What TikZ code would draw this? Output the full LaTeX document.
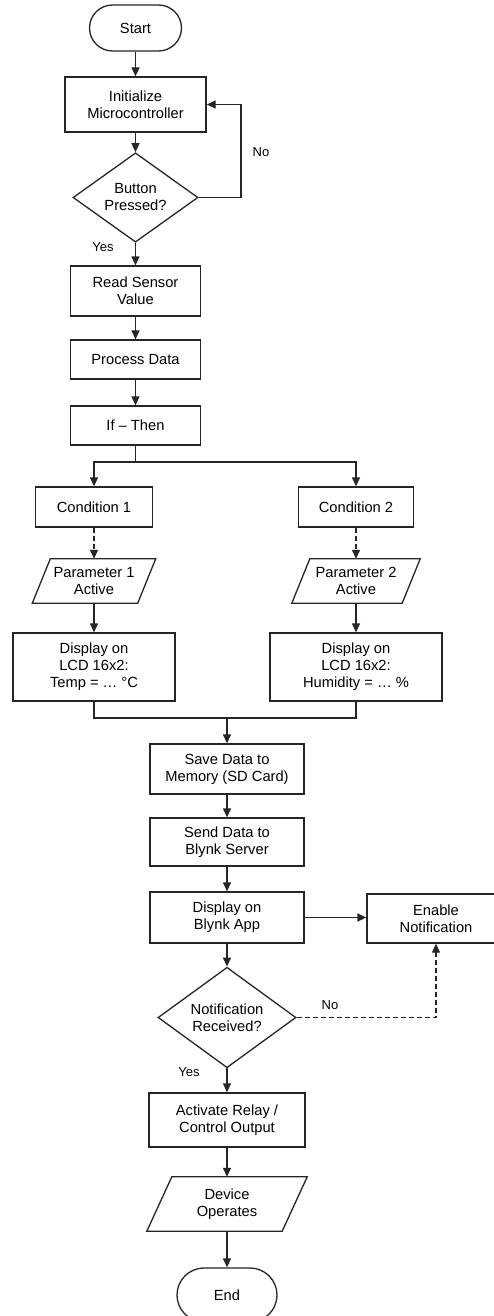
\documentclass[tikz,border=0pt]{standalone}
\usepackage{fontspec}
\setmainfont{Liberation Sans}
\usetikzlibrary{arrows.meta,shapes.geometric,calc}
\begin{document}
\begin{tikzpicture}[x=1pt,y=-1pt,
  font=\fontsize{14.7}{17}\selectfont,
  line/.style={line width=1.3pt, draw=black!85},
  box/.style={line, rectangle, align=center, inner sep=0pt},
  term/.style={box},
  para/.style={rectangle, align=center, inner sep=0pt},
  dec/.style={line, diamond, align=center, inner sep=0pt},
  arr/.style={line, -{Triangle[length=9pt,width=8pt]}},
  darr/.style={arr, dash pattern=on 5pt off 3pt},
  lbl/.style={font=\fontsize{13}{15}\selectfont}]
\useasboundingbox (0,0) rectangle (494,1316);
\fill[white] (0,0) rectangle (494,1316);

% top column
\node[term, minimum width=92pt, minimum height=46pt, rounded corners=23pt] (start) at (135.5,28) {Start};
\node[box, minimum width=141pt, minimum height=55pt] (init) at (135.5,104.5) {Initialize\\Microcontroller};
\node[dec, minimum width=125pt, minimum height=79pt] (btn) at (135.5,197.5) {Button\\Pressed?};
\node[box, minimum width=130pt, minimum height=50pt] (read) at (135.5,291) {Read Sensor\\Value};
\node[box, minimum width=130pt, minimum height=39pt] (proc) at (135.5,359.5) {Process Data};
\node[box, minimum width=130pt, minimum height=39pt] (ift) at (135.5,425.5) {If -- Then};

% branches
\node[box, minimum width=117pt, minimum height=40pt] (c1) at (94,507) {Condition 1};
\node[box, minimum width=115pt, minimum height=40pt] (c2) at (356,507) {Condition 2};
\node[para, minimum width=105pt, minimum height=44pt] (p1) at (94,581) {Parameter 1\\Active};
\node[para, minimum width=110pt, minimum height=44pt] (p2) at (356,581) {Parameter 2\\Active};
\draw[line] ($(p1.north west)+(9,0)$) -- ($(p1.north east)+(9,0)$) -- ($(p1.south east)-(9,0)$) -- ($(p1.south west)-(9,0)$) -- cycle;
\draw[line] ($(p2.north west)+(9,0)$) -- ($(p2.north east)+(9,0)$) -- ($(p2.south east)-(9,0)$) -- ($(p2.south west)-(9,0)$) -- cycle;
\node[box, minimum width=162pt, minimum height=68pt] (d1) at (94,667) {Display on\\LCD 16x2:\\Temp = \dots\ °C};
\node[box, minimum width=172pt, minimum height=68pt] (d2) at (356,667) {Display on\\LCD 16x2:\\Humidity = \dots\ \%};

% bottom column
\node[box, minimum width=154pt, minimum height=50pt] (save) at (227,769) {Save Data to\\Memory (SD Card)};
\node[box, minimum width=154pt, minimum height=48pt] (send) at (227,842) {Send Data to\\Blynk Server};
\node[box, minimum width=154pt, minimum height=51pt] (blynk) at (227,917.5) {Display on\\Blynk App};
\node[box, minimum width=138pt, minimum height=49pt] (enable) at (436,918.5) {Enable\\Notification};
\node[dec, minimum width=138pt, minimum height=92pt] (notif) at (227,1017.5) {Notification\\Received?};
\node[box, minimum width=156pt, minimum height=54pt] (act) at (227,1120) {Activate Relay /\\Control Output};
\node[para, minimum width=135pt, minimum height=54pt] (dev) at (227,1204) {Device\\Operates};
\draw[line] ($(dev.north west)+(12.5,0)$) -- ($(dev.north east)+(12.5,0)$) -- ($(dev.south east)-(12.5,0)$) -- ($(dev.south west)-(12.5,0)$) -- cycle;
\node[term, minimum width=100pt, minimum height=54pt, rounded corners=27pt] (end) at (227,1295) {End};

% connectors
\draw[arr] (start) -- (init);
\draw[arr] (init) -- (btn);
\coordinate (nocorner) at (241,197.5);
\draw[arr] (btn.east) -- (nocorner) |- (init.east);
\node[lbl] (no1) at (261,152) {No};
\draw[arr] (btn) -- (read);
\node[lbl] (yes1) at (103,247) {Yes};
\draw[arr] (read) -- (proc);
\draw[arr] (proc) -- (ift);
\coordinate (split) at (135.5,462);
\draw[line] (ift) -- (split);
\draw[arr] (split) -| (c1.north);
\draw[arr] (split) -| (c2.north);
\draw[darr] (c1) -- (p1);
\draw[darr] (c2) -- (p2);
\draw[arr] (p1) -- (d1);
\draw[arr] (p2) -- (d2);
\coordinate (merge) at (227,718);
\draw[line] (d1.south) |- (merge);
\draw[line] (d2.south) |- (merge);
\draw[arr] (merge) -- (save);
\draw[arr] (save) -- (send);
\draw[arr] (send) -- (blynk);
\draw[arr] (blynk.east) -- (blynk.east -| enable.west);
\draw[arr] (blynk) -- (notif);
\draw[darr] (notif.east) -| (enable.south);
\node[lbl] (no2) at (330,1005) {No};
\draw[arr] (notif) -- (act);
\node[lbl] (yes2) at (189,1072) {Yes};
\draw[arr] (act) -- (dev);
\draw[arr] (dev) -- (end);
\end{tikzpicture}
\end{document}
